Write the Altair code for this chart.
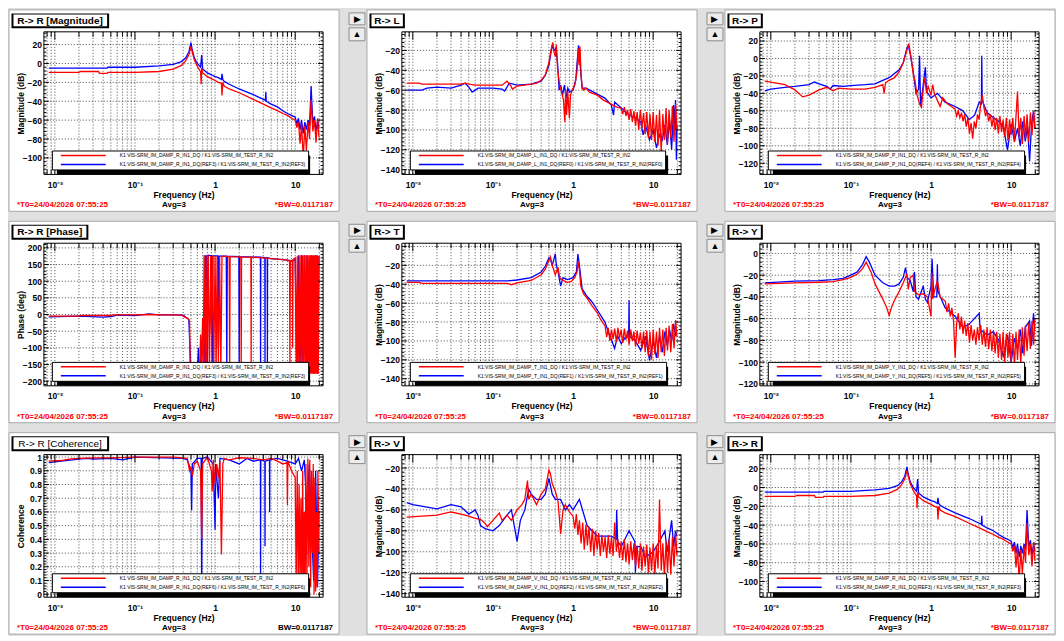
import altair as alt
import pandas as pd

# ---------------- data (frequency Hz, value) ----------------
# frequency bins used for the dense, noisy high-frequency parts of the traces
NOISE_F = [1.0, 1.05, 1.1, 1.15, 1.2, 1.26, 1.32, 1.38, 1.45, 1.51, 1.58, 1.66, 1.74, 1.82, 1.91, 2.0, 2.09, 2.19,
           2.29, 2.4, 2.51, 2.63, 2.75, 2.88, 3.02, 3.16, 3.31, 3.47, 3.63, 3.8, 3.98, 4.17, 4.37, 4.57, 4.79, 5.01,
           5.25, 5.5, 5.75, 6.03, 6.31, 6.61, 6.92, 7.24, 7.59, 7.94, 8.32, 8.71, 9.12, 9.55, 10.0, 10.5, 11.0, 11.5,
           12.0, 12.6, 13.2, 13.8, 14.5, 15.1, 15.8, 16.6, 17.4, 18.2, 19.1, 19.8]

RMAG_RED_BASE = [(0.0084, -9.5), (0.02, -9.5), (0.021, -8.5), (0.035, -8.5), (0.036, -10.5), (0.045, -10.5),
                 (0.046, -9.5), (0.1, -9.5), (0.2, -8.5), (0.3, -6), (0.38, -2), (0.43, 3), (0.47, 9), (0.5, 18),
                 (0.52, 12), (0.55, 4), (0.6, -3), (0.66, -9), (0.67, -22), (0.68, -5), (0.7, -10), (0.75, -12),
                 (0.8, -14), (0.9, -16), (1.0, -18), (1.1, -20), (1.2, -21), (1.22, -34), (1.25, -20), (1.3, -24),
                 (1.5, -27), (2, -31), (3, -38), (4, -43), (5, -47), (6, -50), (7, -53), (8, -55), (9, -58)]
RMAG_RED_TAIL = [-60, -68, -62, -85, -64, -100, -66, -92, -62, -80, -38, -72, -60, -84, -58, -78]        # from 10 Hz
RMAG_BLUE_BASE = [(0.0084, -5), (0.045, -5), (0.046, -4), (0.1, -4), (0.2, -2.5), (0.3, -1), (0.38, 2), (0.43, 6),
                  (0.47, 12), (0.5, 22), (0.52, 14), (0.55, 6), (0.6, 0), (0.66, -4), (0.68, 9), (0.7, -6),
                  (0.75, -8), (0.8, -10), (0.9, -12), (1.0, -14), (1.1, -15), (1.2, -17), (1.22, -11), (1.25, -17),
                  (1.3, -19), (1.5, -22), (2, -27), (3, -33), (4, -38), (4.25, -39), (4.3, -30), (4.35, -40),
                  (5, -43), (6, -46), (7, -50), (8, -53), (9, -55)]
RMAG_BLUE_TAIL = [-57, -64, -58, -70, -60, -74, -62, -70, -60, -66, -24, -64, -56, -72, -60, -68]        # from 10 Hz

PHASE_RED = [(0.0084, -5), (0.02, -5), (0.021, -3), (0.05, -3), (0.052, -1), (0.1, -1), (0.15, 0), (0.2, -1), (0.3, -1),
             (0.38, -2), (0.42, -8), (0.46, -12), (0.48, -20), (0.485, -100), (0.49, -170), (0.55, -175), (0.6, -178),
             (0.62, -150), (0.64, -178), (0.66, -60), (0.67, -178), (0.7, -10), (0.71, -178), (0.73, 178), (0.75, -178),
             (0.77, 175), (0.79, -170), (0.82, 178), (0.85, -178), (0.88, 175), (0.9, -60), (0.93, 178), (0.96, -175),
             (1.0, 176), (1.03, -178), (1.06, 176), (1.1, -150), (1.14, 175), (1.18, -178), (1.22, 175), (1.5, 174),
             (1.52, -178), (1.54, 174), (2.1, 173), (2.12, -178), (2.14, 173), (2.8, 172), (2.82, -160), (2.84, 172),
             (4, 170), (5, 168), (6, 166), (7, 165), (8, 163), (8.5, 160), (8.6, -150), (8.7, 162), (9.2, 160),
             (9.3, -100), (9.4, 165), (10, 170), (10.3, -178), (10.6, 175), (10.9, -178), (11.2, 178), (11.5, -178),
             (11.8, 178), (12.1, -178), (12.4, 178), (12.7, -178), (13, 178), (13.3, -175), (13.6, 178), (13.9, -178),
             (14.2, 178), (14.5, -170), (14.8, 178), (15.1, -178), (15.4, 178), (15.7, -178), (16, 178), (16.3, -178),
             (16.6, 178), (16.9, -178), (17.2, 178), (17.5, -178), (17.8, 178), (18.1, -178), (18.4, 178), (18.7, -178),
             (19, 178), (19.4, -178), (19.8, 176)]
PHASE_BLUE = [(0.0084, -7), (0.02, -5), (0.04, -8), (0.05, -6), (0.06, -2), (0.1, -3), (0.15, 2), (0.2, -1), (0.3, -1),
              (0.4, -2), (0.44, -10), (0.47, -15), (0.49, -120), (0.5, -175), (0.6, -175), (0.62, -100), (0.63, -178),
              (0.74, -178), (0.75, 178), (0.76, -178), (0.78, 178), (0.8, -160), (0.82, 178), (0.9, 176), (0.92, -178),
              (0.94, 176), (1.08, 176), (1.1, -100), (1.12, 176), (1.38, 175), (1.4, -178), (1.42, 175), (1.98, 174),
              (2.0, -178), (2.02, 174), (3.68, 172), (3.7, -178), (3.72, 172), (4.18, 171), (4.2, -178), (4.22, 170),
              (4.48, 170), (4.5, -150), (4.52, 170), (5, 168), (7, 165), (9, 162), (10, 165), (10.5, -178), (11, 178),
              (11.5, -178), (12, 178), (12.5, -178), (13, 178), (13.5, -175), (14, 178), (15, -178), (16, 178),
              (17, -178), (18, 178), (19, -178), (19.8, 176)]

COH_RED = [(0.0084, 0.97), (0.012, 0.975), (0.015, 0.985), (0.02, 0.99), (0.03, 0.995), (0.05, 0.995), (0.1, 1.0),
           (0.3, 1.0), (0.45, 0.99), (0.48, 0.9), (0.5, 0.93), (0.52, 0.86), (0.55, 0.95), (0.6, 0.97), (0.66, 0.9),
           (0.68, 0.4), (0.7, 0.95), (0.8, 1.0), (0.9, 0.9), (0.92, 0.75), (0.95, 0.98), (1.0, 0.8), (1.05, 0.95),
           (1.1, 0.85), (1.15, 0.97), (1.2, 0.29), (1.25, 0.95), (1.3, 0.99), (1.5, 0.98), (2, 0.995), (3, 0.99),
           (4, 0.98), (5, 0.99), (6, 0.97), (7, 0.95), (7.9, 0.96), (8.0, 0.65), (8.1, 0.97), (9, 0.9), (10, 0.85),
           (10.3, 0.1), (10.6, 0.9), (10.9, 0.05), (11.2, 0.8), (11.5, 0.02), (11.8, 0.7), (12.1, 0.05), (12.4, 0.9),
           (12.7, 0.0), (13, 0.6), (13.3, 0.0), (13.6, 0.95), (14, 0.1), (14.4, 0.99), (14.8, 0.2), (15.2, 0.98),
           (15.6, 0.05), (16, 0.9), (16.4, 0.3), (16.8, 0.95), (17.2, 0.0), (17.6, 0.85), (18, 0.02), (18.4, 0.6),
           (18.8, 0.05), (19.2, 0.9), (19.8, 0.3)]
COH_BLUE = [(0.0084, 0.96), (0.012, 0.97), (0.02, 0.985), (0.025, 0.99), (0.03, 0.985), (0.05, 0.99), (0.07, 0.98),
            (0.1, 1.0), (0.4, 0.99), (0.45, 0.98), (0.5, 0.9), (0.51, 0.61), (0.52, 0.95), (0.6, 0.99), (0.67, 0.99),
            (0.68, 0.0), (0.69, 0.99), (0.8, 1.0), (0.95, 0.95), (1.0, 0.47), (1.02, 0.95), (1.1, 0.7), (1.15, 0.99),
            (1.5, 0.98), (2, 0.95), (2.5, 0.99), (3, 0.97), (3.68, 0.98), (3.7, 0.09), (3.72, 0.98), (4.18, 0.97),
            (4.2, 0.35), (4.22, 0.97), (4.78, 0.98), (4.8, 0.6), (4.82, 0.98), (6, 0.99), (8, 0.97), (10, 0.95),
            (11, 0.99), (12, 0.9), (13, 0.98), (14, 0.6), (15, 0.95), (16, 0.5), (17, 0.1), (18, 0.9), (19, 0.05),
            (19.8, 0.6)]

RL_RED_BASE = [(0.0084, -53), (0.012, -53), (0.013, -54), (0.04, -54), (0.045, -53), (0.05, -54), (0.06, -55),
               (0.13, -55), (0.15, -51), (0.165, -55), (0.175, -59), (0.2, -56), (0.3, -54), (0.35, -53), (0.4, -50),
               (0.45, -45), (0.5, -32), (0.53, -20), (0.56, -12), (0.58, -22), (0.6, -26), (0.62, -14), (0.64, -38),
               (0.68, -55), (0.72, -62), (0.76, -70), (0.79, -92), (0.81, -60), (0.83, -85), (0.86, -62), (0.9, -88),
               (0.93, -65), (0.97, -60), (1.05, -55), (1.12, -42), (1.16, -18), (1.19, -35), (1.22, -16),
               (1.26, -45), (1.3, -58), (1.35, -60), (1.45, -58), (1.6, -62), (2.0, -65), (2.4, -70), (3.0, -74),
               (3.5, -77)]
RL_RED_TAIL = [-78, -84, -77, -86, -80, -90, -79, -92, -81, -96, -82, -100, -80, -98, -83, -104, -82, -108,
               -84, -110, -82, -112, -85, -116, -80, -122, -84, -110, -78, -114, -80, -108, -76, -112, -74, -100]  # from 3.98 Hz
RL_BLUE = [(0.0084, -60), (0.013, -60), (0.015, -58), (0.02, -57), (0.03, -58), (0.04, -55), (0.045, -53), (0.05, -57),
           (0.055, -62), (0.06, -60), (0.065, -58), (0.1, -58), (0.13, -59), (0.14, -61), (0.16, -53), (0.2, -55),
           (0.3, -54), (0.4, -51), (0.45, -45), (0.5, -35), (0.53, -22), (0.55, -15), (0.58, -20), (0.61, -18),
           (0.64, -32), (0.67, -60), (0.7, -55), (0.74, -65), (0.78, -55), (0.82, -68), (0.86, -58), (0.9, -62),
           (1.0, -60), (1.08, -50), (1.13, -30), (1.17, -15), (1.2, -20), (1.24, -40), (1.3, -58), (1.45, -58),
           (1.8, -62), (2.5, -68), (3, -75), (3.2, -85), (3.3, -72), (4, -78), (5, -85), (6, -88), (7, -92),
           (7.5, -105), (8, -95), (9, -110), (10, -100), (11, -118), (12, -105), (13, -110), (14, -95), (15, -115),
           (16, -90), (17, -120), (18, -75), (18.5, -100), (19, -70), (19.5, -130), (19.8, -95)]

RP_RED_BASE = [(0.0084, -26), (0.01, -27), (0.015, -30), (0.02, -36), (0.025, -44), (0.03, -42), (0.04, -36),
               (0.05, -33), (0.06, -37), (0.07, -34), (0.1, -35), (0.15, -35), (0.2, -33), (0.25, -30), (0.26, -40),
               (0.27, -28), (0.3, -25), (0.35, -22), (0.4, -15), (0.45, -5), (0.5, 10), (0.53, 16), (0.56, 3),
               (0.6, -18), (0.63, -25), (0.67, -42), (0.72, -52), (0.76, -56), (0.8, -35), (0.84, -22), (0.88, -40),
               (0.92, -32), (1.0, -42), (1.05, -30), (1.1, -40), (1.2, -48), (1.3, -55), (1.4, -45), (1.6, -52),
               (1.8, -55)]
RP_RED_TAIL = [-58, -66, -60, -68, -62, -72, -64, -78, -68, -86, -74, -92, -72, -80, -64, -70, -52, -42, -56, -66,
               -60, -72, -64, -78, -66, -82, -68, -86, -66, -84, -70, -90, -68, -94, -70, -88, -68, -96, -66, -38,
               -90, -68, -98, -66, -92, -64, -96, -62, -88, -60, -80]                                     # from 2.0 Hz
RP_BLUE = [(0.0084, -37), (0.01, -35), (0.015, -33), (0.02, -32), (0.03, -30), (0.035, -27), (0.04, -29), (0.05, -32),
           (0.055, -35), (0.06, -31), (0.08, -32), (0.1, -31), (0.15, -30), (0.2, -29), (0.25, -25), (0.3, -22),
           (0.4, -13), (0.45, -5), (0.5, 12), (0.52, 15), (0.55, 5), (0.6, -15), (0.65, -40), (0.7, -35), (0.72, 3),
           (0.74, -55), (0.8, -30), (0.85, -10), (0.88, -38), (1.0, -45), (1.2, -40), (1.5, -50), (2, -55), (2.5, -60),
           (3, -70), (3.5, -65), (4, -50), (4.25, -52), (4.3, 3), (4.35, -48), (5, -62), (6, -68), (7, -72), (8, -78),
           (9, -105), (10, -75), (11, -95), (12, -80), (13, -100), (14, -72), (15, -95), (16, -78), (17, -118),
           (18, -75), (19, -60), (19.8, -80)]

RT_RED_BASE = [(0.0084, -38), (0.012, -38), (0.013, -39), (0.15, -39), (0.17, -40.5), (0.2, -38.5), (0.3, -36),
               (0.4, -30), (0.45, -24), (0.5, -15), (0.52, -11), (0.55, -20), (0.58, -26), (0.6, -30), (0.65, -22),
               (0.68, -33), (0.75, -36), (0.85, -38), (0.95, -37), (1.05, -33), (1.12, -27), (1.16, -16), (1.2, -25),
               (1.25, -42), (1.35, -50), (1.5, -55), (1.7, -62), (2.0, -70), (2.2, -77), (2.4, -82)]
RT_RED_TAIL = [-84, -96, -86, -100, -88, -98, -87, -101, -86, -97, -88, -102, -87, -99, -89, -104, -88, -100, -90,
               -106, -89, -103, -91, -108, -90, -112, -89, -116, -90, -120, -88, -114, -90, -118, -86, -112, -88,
               -116, -86, -110, -84, -112, -82, -108, -78, -96]                                           # from 2.51 Hz
RT_BLUE = [(0.0084, -36.5), (0.15, -36.5), (0.2, -35.5), (0.3, -33), (0.4, -27), (0.45, -21), (0.5, -12), (0.52, -13),
           (0.55, -20), (0.6, -8), (0.62, -20), (0.65, -27), (0.7, -42), (0.75, -33), (0.85, -35), (1.0, -33),
           (1.1, -27), (1.15, -8), (1.2, -20), (1.3, -45), (1.5, -53), (1.7, -58), (2.0, -67), (2.5, -80), (2.8, -92),
           (3, -98), (3.3, -108), (3.6, -95), (4, -103), (4.5, -96), (4.95, -96), (5.0, -57), (5.05, -95), (6, -100),
           (7, -110), (8, -95), (9, -120), (10, -100), (11, -118), (12, -95), (13, -112), (14, -90), (15, -105),
           (16, -88), (17, -100), (18, -82), (19, -95), (19.8, -88)]

RY_RED_BASE = [(0.0084, -28), (0.02, -27), (0.04, -26.5), (0.06, -26), (0.08, -24), (0.1, -22), (0.12, -19),
               (0.14, -14), (0.155, -8), (0.165, -12), (0.18, -18), (0.2, -28), (0.25, -42), (0.28, -50), (0.3, -57),
               (0.32, -50), (0.35, -43), (0.4, -35), (0.45, -27), (0.5, -19), (0.52, -33), (0.55, -22), (0.6, -20),
               (0.62, -35), (0.7, -38), (0.8, -37), (0.9, -40), (1.0, -58), (1.02, -18), (1.05, -42), (1.1, -35),
               (1.2, -25), (1.3, -40)]
RY_RED_TAIL = [-44, -54, -46, -58, -50, -62, -96, -64, -55, -70, -58, -74, -62, -76, -64, -82, -66, -80, -70, -84,
               -68, -80, -66, -84, -70, -86, -68, -88, -70, -90, -72, -92, -72, -96, -74, -98, -72, -100, -74, -96,
               -72, -100, -74, -104, -72, -98, -70, -102, -68, -94, -66, -90, -64, -88, -62, -84, -60]      # from 1.51 Hz
RY_BLUE = [(0.0084, -27), (0.02, -25.5), (0.04, -25), (0.06, -24), (0.08, -23), (0.1, -20), (0.12, -17), (0.14, -10),
           (0.155, -3), (0.17, -8), (0.2, -20), (0.25, -27), (0.3, -30), (0.35, -30), (0.4, -28), (0.45, -22),
           (0.48, -13), (0.5, -22), (0.55, -25), (0.6, -35), (0.62, -17), (0.65, -40), (0.7, -42), (0.8, -30),
           (0.85, -42), (0.9, -45), (1.0, -30), (1.03, -5), (1.08, -40), (1.18, -40), (1.2, -10), (1.22, -35),
           (1.5, -50), (2, -58), (2.5, -68), (3, -65), (4, -55), (4.1, -70), (5, -75), (6, -72), (7, -80), (8, -95),
           (9, -75), (10, -100), (11, -78), (12, -88), (13, -70), (14, -92), (15, -68), (17, -62), (18, -85),
           (19, -55), (19.8, -70)]

RV_RED_BASE = [(0.0084, -67), (0.02, -65), (0.03, -62), (0.04, -64), (0.05, -66), (0.06, -68), (0.07, -69),
               (0.08, -73), (0.085, -76), (0.1, -70), (0.12, -63), (0.13, -70), (0.15, -65), (0.17, -70), (0.2, -60),
               (0.23, -55), (0.25, -50), (0.27, -32), (0.28, -50), (0.3, -45), (0.35, -55), (0.4, -45), (0.45, -40),
               (0.5, -22), (0.52, -25), (0.55, -35), (0.6, -42), (0.65, -52), (0.7, -83), (0.75, -60), (0.8, -55),
               (0.9, -62)]
RV_RED_TAIL = [-66, -78, -64, -84, -70, -92, -72, -98, -74, -94, -76, -100, -78, -104, -80, -98, -82, -104, -84,
               -100, -86, -106, -84, -102, -86, -104, -72, -100, -88, -106, -90, -108, -88, -110, -92, -112, -90,
               -108, -92, -114, -94, -116, -92, -118, -95, -114, -93, -120, -96, -118, -92, -122, -94, -116, -50,
               -118, -92, -124, -90, -120, -88, -122, -86, -114, -82, -104]                               # from 1.0 Hz
RV_BLUE = [(0.0084, -53), (0.01, -55), (0.02, -59), (0.03, -55), (0.04, -57), (0.05, -64), (0.06, -60), (0.065, -65),
           (0.07, -75), (0.08, -78), (0.1, -80), (0.12, -75), (0.15, -65), (0.17, -60), (0.2, -90), (0.22, -70),
           (0.25, -60), (0.28, -40), (0.3, -45), (0.35, -50), (0.4, -50), (0.45, -45), (0.5, -30), (0.55, -45),
           (0.6, -50), (0.7, -50), (0.8, -60), (0.9, -55), (1, -60), (1.2, -50), (1.5, -75), (2, -85), (3, -85),
           (3.45, -88), (3.5, -60), (3.6, -90), (4, -95), (5, -80), (5.9, -90), (6, -120), (6.2, -95), (7, -95),
           (8, -105), (10, -100), (12, -90), (14, -80), (15, -100), (17, -70), (18, -95), (19, -80), (19.8, -85)]


def with_tail(base, tail):
    """append a noisy tail that ends on the last frequency bins"""
    return base + list(zip(NOISE_F[len(NOISE_F) - len(tail):], tail))


RMAG_RED = with_tail(RMAG_RED_BASE, RMAG_RED_TAIL)
RMAG_BLUE = with_tail(RMAG_BLUE_BASE, RMAG_BLUE_TAIL)
RL_RED = with_tail(RL_RED_BASE, RL_RED_TAIL)
RP_RED = with_tail(RP_RED_BASE, RP_RED_TAIL)
RT_RED = with_tail(RT_RED_BASE, RT_RED_TAIL)
RY_RED = with_tail(RY_RED_BASE, RY_RED_TAIL)
RV_RED = with_tail(RV_RED_BASE, RV_RED_TAIL)

TITLES = ["R-> R [Magnitude]", "R-> L", "R-> P",
          "R-> R [Phase]", "R-> T", "R-> Y",
          "R-> R [Coherence]", "R-> V", "R-> R"]
LEG_RED = ["K1:VIS-SRM_IM_DAMP_R_IN1_DQ / K1:VIS-SRM_IM_TEST_R_IN2",
           "K1:VIS-SRM_IM_DAMP_L_IN1_DQ / K1:VIS-SRM_IM_TEST_R_IN2",
           "K1:VIS-SRM_IM_DAMP_P_IN1_DQ / K1:VIS-SRM_IM_TEST_R_IN2",
           "K1:VIS-SRM_IM_DAMP_R_IN1_DQ / K1:VIS-SRM_IM_TEST_R_IN2",
           "K1:VIS-SRM_IM_DAMP_T_IN1_DQ / K1:VIS-SRM_IM_TEST_R_IN2",
           "K1:VIS-SRM_IM_DAMP_Y_IN1_DQ / K1:VIS-SRM_IM_TEST_R_IN2",
           "K1:VIS-SRM_IM_DAMP_R_IN1_DQ / K1:VIS-SRM_IM_TEST_R_IN2",
           "K1:VIS-SRM_IM_DAMP_V_IN1_DQ / K1:VIS-SRM_IM_TEST_R_IN2",
           "K1:VIS-SRM_IM_DAMP_R_IN1_DQ / K1:VIS-SRM_IM_TEST_R_IN2"]
LEG_BLUE = ["K1:VIS-SRM_IM_DAMP_R_IN1_DQ(REF3) / K1:VIS-SRM_IM_TEST_R_IN2(REF3)",
            "K1:VIS-SRM_IM_DAMP_L_IN1_DQ(REF0) / K1:VIS-SRM_IM_TEST_R_IN2(REF0)",
            "K1:VIS-SRM_IM_DAMP_P_IN1_DQ(REF4) / K1:VIS-SRM_IM_TEST_R_IN2(REF4)",
            "K1:VIS-SRM_IM_DAMP_R_IN1_DQ(REF3) / K1:VIS-SRM_IM_TEST_R_IN2(REF3)",
            "K1:VIS-SRM_IM_DAMP_T_IN1_DQ(REF1) / K1:VIS-SRM_IM_TEST_R_IN2(REF1)",
            "K1:VIS-SRM_IM_DAMP_Y_IN1_DQ(REF5) / K1:VIS-SRM_IM_TEST_R_IN2(REF5)",
            "K1:VIS-SRM_IM_DAMP_R_IN1_DQ(REF6) / K1:VIS-SRM_IM_TEST_R_IN2(REF6)",
            "K1:VIS-SRM_IM_DAMP_V_IN1_DQ(REF2) / K1:VIS-SRM_IM_TEST_R_IN2(REF2)",
            "K1:VIS-SRM_IM_DAMP_R_IN1_DQ(REF3) / K1:VIS-SRM_IM_TEST_R_IN2(REF3)"]
SERIES = [(RMAG_RED, RMAG_BLUE), (RL_RED, RL_BLUE), (RP_RED, RP_BLUE),
          (PHASE_RED, PHASE_BLUE), (RT_RED, RT_BLUE), (RY_RED, RY_BLUE),
          (COH_RED, COH_BLUE), (RV_RED, RV_BLUE), (RMAG_RED, RMAG_BLUE)]
Y_DOMAINS = [[-117.5, 33.5], [-144.8, -1.3], [-132.8, 30.5],
             [-214, 214], [-147.5, 3.4], [-121.8, 9.4],
             [-0.022, 1.018], [-143.4, -7.2], [-116.7, 35]]
KINDS = ["mag", "mag", "mag", "phase", "mag", "mag", "coh", "mag", "mag"]
T0_TEXT = "*T0=24/04/2026 07:55:25"
AVG_TEXT = "Avg=3"
BW_TEXT = "*BW=0.0117187"
BW_TEXT_COH = "BW=0.0117187"

# ---------------- layout / style ----------------
FONT = "Liberation Sans"
RED, BLUE = "#ff0000", "#0000ff"
L, W, R, T, H, B = 35, 280, 16, 22, 143, 37
X_DOMAIN = [0.0073, 22.3]
X_DECADES = [0.01, 0.1, 1, 10]
X_MINOR = [round(m * d, 4) for d in (0.001, 0.01, 0.1, 1, 10) for m in range(2, 10)
           if X_DOMAIN[0] <= m * d <= X_DOMAIN[1]]
X_GRID = sorted(X_MINOR + X_DECADES)
XLABEL = ("datum.value < 0.05 ? '10\u207b\u00b2' : (datum.value < 0.5 ? '10\u207b\u00b9' : "
          "(datum.value < 5 ? '1' : '10'))")
LEG_W, LEG_H = 254, 19
ONE = alt.InlineData(values=[{"k": 0}])


def ticks_for(kind, dom):
    lo, hi = dom
    if kind == "mag":
        maj = [v for v in range(-200, 201, 20) if lo <= v <= hi]
        mnr = [v for v in range(-200, 201, 4) if lo <= v <= hi and v % 20]
        return maj, mnr, "Magnitude (dB)", "d"
    if kind == "phase":
        maj = [v for v in range(-200, 201, 50) if lo <= v <= hi]
        mnr = [v for v in range(-210, 211, 10) if lo <= v <= hi and v % 50]
        return maj, mnr, "Phase (deg)", "d"
    maj = [round(0.1 * k, 1) for k in range(11)]
    mnr = [round(0.02 * k, 2) for k in range(51) if k % 5]
    return maj, mnr, "Coherence", "~g"


def const():
    return alt.Chart(ONE)


def panel(i, buttons):
    kind = KINDS[i]
    ymaj, ymin, ytitle, yfmt = ticks_for(kind, Y_DOMAINS[i])
    xs = alt.Scale(type="log", domain=X_DOMAIN, nice=False)
    ys = alt.Scale(domain=Y_DOMAINS[i], nice=False, zero=False)
    xax = alt.Axis(values=X_DECADES, labelExpr=XLABEL, title="Frequency (Hz)", orient="bottom",
                   minExtent=14, maxExtent=14, titlePadding=2, labelPadding=6, zindex=1)
    yax = alt.Axis(values=ymaj, title=ytitle, orient="left", format=yfmt,
                   minExtent=16, maxExtent=16, titlePadding=2, labelPadding=2.5, zindex=1)

    def X(f):
        return alt.X(f, scale=xs, axis=xax)

    def Y(f):
        return alt.Y(f, scale=ys, axis=yax)

    layers = [const().mark_rect(fill="white", stroke="#a8a8a8", strokeWidth=1).encode(
        x=alt.value(-L), x2=alt.value(W + R), y=alt.value(-T), y2=alt.value(H + B))]

    if buttons:
        for y0, y1, glyph in [(-19, -7, "\u25b6"), (-4, 9, "\u25b2")]:
            layers.append(const().mark_rect(fill="#ececec", stroke="#8c8c8c", strokeWidth=1).encode(
                x=alt.value(-L - 18), x2=alt.value(-L - 2), y=alt.value(y0), y2=alt.value(y1)))
            layers.append(const().mark_text(text=glyph, fontSize=9, color="black", baseline="middle",
                                            align="center").encode(
                x=alt.value(-L - 10), y=alt.value((y0 + y1) / 2)))

    title = TITLES[i]
    tw = 5.2 * len(title) + 8
    tx0, ty0, ty1 = -L + 3, -T + 4, -T + 17
    layers += [
        const().mark_rect(fill="black").encode(
            x=alt.value(tx0 - 0.5), x2=alt.value(tx0 + tw + 1), y=alt.value(ty0 - 0.5), y2=alt.value(ty1 + 1.5)),
        const().mark_rect(fill="white").encode(
            x=alt.value(tx0 + 1.5), x2=alt.value(tx0 + tw - 1), y=alt.value(ty0 + 0.5), y2=alt.value(ty1 - 0.5)),
        const().mark_text(text=title, font=FONT, fontSize=10,
                          fontWeight="normal" if kind == "coh" else "bold",
                          color="black", align="center", baseline="middle").encode(
            x=alt.value(tx0 + tw / 2), y=alt.value((ty0 + ty1) / 2 + 0.5)),
    ]

    grid_style = dict(color="black", strokeDash=[1, 2], strokeWidth=0.7)
    layers.append(alt.Chart(pd.DataFrame({"g": X_GRID})).mark_rule(**grid_style).encode(x=X("g:Q")))
    layers.append(alt.Chart(pd.DataFrame({"g": ymaj})).mark_rule(**grid_style).encode(y=Y("g:Q")))

    red, blue = SERIES[i]
    lab_r, lab_b = LEG_RED[i], LEG_BLUE[i]
    df_b = pd.DataFrame({"f": [p[0] for p in blue], "v": [p[1] for p in blue], "s": lab_b})
    df_r = pd.DataFrame({"f": [p[0] for p in red], "v": [p[1] for p in red], "s": lab_r})
    leg = alt.Legend(title=None, orient="none", legendX=8, legendY=H - 5 - LEG_H, direction="vertical",
                     fillColor="white", strokeColor="black", padding=2, rowPadding=3,
                     symbolType="M0,0H22.5", symbolSize=16, symbolStrokeWidth=1.5, symbolOffset=4,
                     labelFont=FONT, labelFontSize=5, labelOffset=56, labelLimit=0, labelColor="black",
                     zindex=1, cornerRadius=0)
    color = alt.Color("s:N", scale=alt.Scale(domain=[lab_r, lab_b], range=[RED, BLUE]), legend=leg)
    for df in (df_b, df_r):
        layers.append(alt.Chart(df).mark_line(strokeWidth=1.3, clip=True).encode(
            x=X("f:Q"), y=Y("v:Q"), color=color))

    layers.append(const().mark_rect(fill="black").encode(
        x=alt.value(8 + 5), x2=alt.value(8 + LEG_W + 5), y=alt.value(H - LEG_H), y2=alt.value(H)))

    for vals, ln in [(X_DECADES, 8), (X_MINOR, 5)]:
        dfv = pd.DataFrame({"g": vals})
        for y0, y1 in [(H, H - ln), (0, ln)]:
            layers.append(alt.Chart(dfv).mark_rule(color="black", strokeWidth=1).encode(
                x=X("g:Q"), y=alt.value(y0), y2=alt.value(y1)))
    for vals, ln in [(ymaj, 5), (ymin, 2.5)]:
        dfv = pd.DataFrame({"g": vals})
        for x0, x1 in [(0, ln), (W, W - ln)]:
            layers.append(alt.Chart(dfv).mark_rule(color="black", strokeWidth=1).encode(
                y=Y("g:Q"), x=alt.value(x0), x2=alt.value(x1)))

    layers.append(const().mark_rect(fillOpacity=0, stroke="black", strokeWidth=1).encode(
        x=alt.value(0), x2=alt.value(W), y=alt.value(0), y2=alt.value(H)))

    foot = dict(font=FONT, fontSize=8, fontWeight="bold", baseline="middle")
    bw_text, bw_color = (BW_TEXT_COH, "black") if kind == "coh" else (BW_TEXT, RED)
    layers += [
        const().mark_text(text=T0_TEXT, align="left", color=RED, **foot).encode(
            x=alt.value(-L + 8), y=alt.value(H + 31)),
        const().mark_text(text=AVG_TEXT, align="center", color="black", **foot).encode(
            x=alt.value(-L + (L + W + R) / 2), y=alt.value(H + 31)),
        const().mark_text(text=bw_text, align="right", color=bw_color, **foot).encode(
            x=alt.value(W + R - 6), y=alt.value(H + 31)),
    ]
    return alt.layer(*layers).properties(width=W, height=H)


rows = []
for r in range(3):
    row = alt.hconcat(*[panel(3 * r + c, c > 0) for c in range(3)], spacing=8)
    rows.append(row.resolve_scale(color="independent").resolve_legend(color="independent"))

chart = (alt.vconcat(*rows, spacing=8)
         .resolve_scale(color="independent").resolve_legend(color="independent")
         .properties(padding=0, background="#e0e0e0")
         .configure_view(stroke="transparent")
         .configure_axis(labelFont=FONT, labelFontWeight="bold", labelFontSize=8.5, labelColor="black",
                         titleFont=FONT, titleFontWeight="bold", titleFontSize=8.5, titleColor="black",
                         grid=False, ticks=False, domain=False, tickSize=0, labelOverlap=False,
                         labelFlush=False))

chart.save("out.html", embed_options={"renderer": "svg", "actions": False})
